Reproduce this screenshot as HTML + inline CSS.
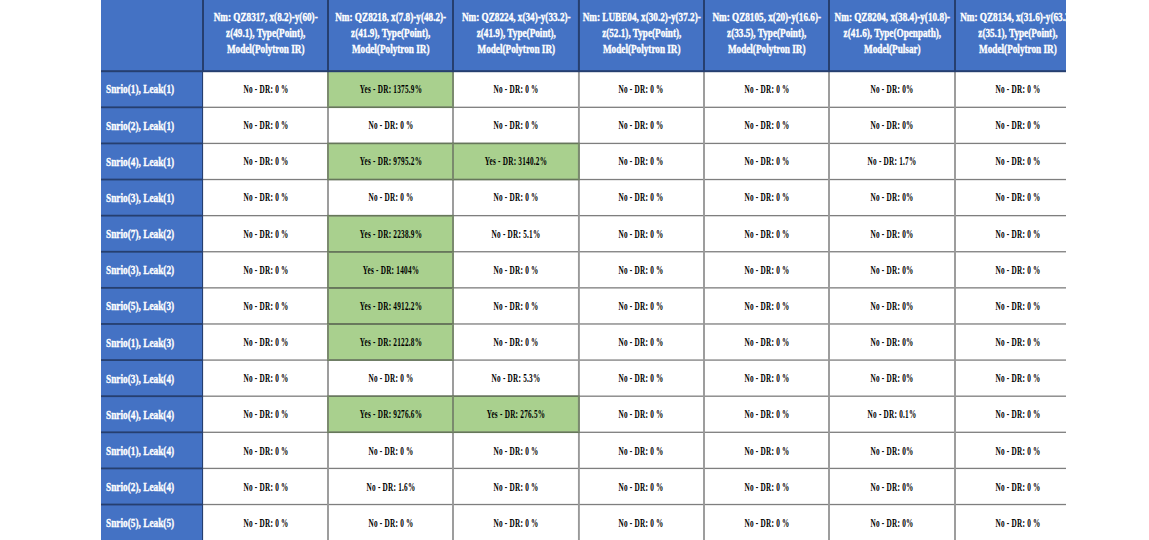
<!DOCTYPE html>
<html><head><meta charset="utf-8"><style>
html,body{margin:0;padding:0;background:#fff;width:1149px;height:540px;overflow:hidden}
#clip{position:absolute;left:101.0px;top:0;width:965.0px;height:540px;overflow:hidden}
svg{position:absolute;left:0;top:0}
.t{position:absolute;white-space:nowrap;font-family:"Liberation Serif",serif;font-weight:bold;-webkit-text-stroke:0.35px currentColor}
</style></head><body>
<div id="clip">
<svg width="965.0" height="540" viewBox="0 0 965.0 540">
<rect x="0" y="0" width="965.0" height="540" fill="#ffffff"/>
<rect x="0" y="0" width="965.0" height="71.2" fill="#4472c4"/>
<rect x="0" y="0" width="102.0" height="540" fill="#4472c4"/>
<rect x="227.00" y="71.20" width="125.00" height="36.11" fill="#a9d08e"/>
<rect x="227.00" y="143.42" width="125.00" height="36.11" fill="#a9d08e"/>
<rect x="352.00" y="143.42" width="125.90" height="36.11" fill="#a9d08e"/>
<rect x="227.00" y="215.64" width="125.00" height="36.11" fill="#a9d08e"/>
<rect x="227.00" y="251.75" width="125.00" height="36.11" fill="#a9d08e"/>
<rect x="227.00" y="287.86" width="125.00" height="36.11" fill="#a9d08e"/>
<rect x="227.00" y="323.97" width="125.00" height="36.11" fill="#a9d08e"/>
<rect x="227.00" y="396.19" width="125.00" height="36.11" fill="#a9d08e"/>
<rect x="352.00" y="396.19" width="125.90" height="36.11" fill="#a9d08e"/>
<rect x="102.00" y="106.66" width="965.0" height="1.3" fill="#7e7e7e"/>
<rect x="102.00" y="142.77" width="965.0" height="1.3" fill="#7e7e7e"/>
<rect x="102.00" y="178.88" width="965.0" height="1.3" fill="#7e7e7e"/>
<rect x="102.00" y="214.99" width="965.0" height="1.3" fill="#7e7e7e"/>
<rect x="102.00" y="251.10" width="965.0" height="1.3" fill="#7e7e7e"/>
<rect x="102.00" y="287.21" width="965.0" height="1.3" fill="#7e7e7e"/>
<rect x="102.00" y="323.32" width="965.0" height="1.3" fill="#7e7e7e"/>
<rect x="102.00" y="359.43" width="965.0" height="1.3" fill="#7e7e7e"/>
<rect x="102.00" y="395.54" width="965.0" height="1.3" fill="#7e7e7e"/>
<rect x="102.00" y="431.65" width="965.0" height="1.3" fill="#7e7e7e"/>
<rect x="102.00" y="467.76" width="965.0" height="1.3" fill="#7e7e7e"/>
<rect x="102.00" y="503.87" width="965.0" height="1.3" fill="#7e7e7e"/>
<rect x="226.05" y="71.2" width="1.9" height="540" fill="#999999"/>
<rect x="351.05" y="71.2" width="1.9" height="540" fill="#999999"/>
<rect x="476.95" y="71.2" width="1.9" height="540" fill="#999999"/>
<rect x="602.05" y="71.2" width="1.9" height="540" fill="#999999"/>
<rect x="727.05" y="71.2" width="1.9" height="540" fill="#999999"/>
<rect x="853.05" y="71.2" width="1.9" height="540" fill="#999999"/>
<rect x="226.10" y="70.45" width="126.80" height="1.5" fill="#66775a"/>
<rect x="226.10" y="106.56" width="126.80" height="1.5" fill="#66775a"/>
<rect x="226.05" y="71.20" width="1.9" height="36.11" fill="#7a8a6e"/>
<rect x="351.05" y="71.20" width="1.9" height="36.11" fill="#7a8a6e"/>
<rect x="226.10" y="142.67" width="126.80" height="1.5" fill="#66775a"/>
<rect x="226.10" y="178.78" width="126.80" height="1.5" fill="#66775a"/>
<rect x="226.05" y="143.42" width="1.9" height="36.11" fill="#7a8a6e"/>
<rect x="351.05" y="143.42" width="1.9" height="36.11" fill="#7a8a6e"/>
<rect x="351.10" y="142.67" width="127.70" height="1.5" fill="#66775a"/>
<rect x="351.10" y="178.78" width="127.70" height="1.5" fill="#66775a"/>
<rect x="351.05" y="143.42" width="1.9" height="36.11" fill="#7a8a6e"/>
<rect x="476.95" y="143.42" width="1.9" height="36.11" fill="#7a8a6e"/>
<rect x="226.10" y="214.89" width="126.80" height="1.5" fill="#66775a"/>
<rect x="226.10" y="251.00" width="126.80" height="1.5" fill="#66775a"/>
<rect x="226.05" y="215.64" width="1.9" height="36.11" fill="#7a8a6e"/>
<rect x="351.05" y="215.64" width="1.9" height="36.11" fill="#7a8a6e"/>
<rect x="226.10" y="251.00" width="126.80" height="1.5" fill="#66775a"/>
<rect x="226.10" y="287.11" width="126.80" height="1.5" fill="#66775a"/>
<rect x="226.05" y="251.75" width="1.9" height="36.11" fill="#7a8a6e"/>
<rect x="351.05" y="251.75" width="1.9" height="36.11" fill="#7a8a6e"/>
<rect x="226.10" y="287.11" width="126.80" height="1.5" fill="#66775a"/>
<rect x="226.10" y="323.22" width="126.80" height="1.5" fill="#66775a"/>
<rect x="226.05" y="287.86" width="1.9" height="36.11" fill="#7a8a6e"/>
<rect x="351.05" y="287.86" width="1.9" height="36.11" fill="#7a8a6e"/>
<rect x="226.10" y="323.22" width="126.80" height="1.5" fill="#66775a"/>
<rect x="226.10" y="359.33" width="126.80" height="1.5" fill="#66775a"/>
<rect x="226.05" y="323.97" width="1.9" height="36.11" fill="#7a8a6e"/>
<rect x="351.05" y="323.97" width="1.9" height="36.11" fill="#7a8a6e"/>
<rect x="226.10" y="395.44" width="126.80" height="1.5" fill="#66775a"/>
<rect x="226.10" y="431.55" width="126.80" height="1.5" fill="#66775a"/>
<rect x="226.05" y="396.19" width="1.9" height="36.11" fill="#7a8a6e"/>
<rect x="351.05" y="396.19" width="1.9" height="36.11" fill="#7a8a6e"/>
<rect x="351.10" y="395.44" width="127.70" height="1.5" fill="#66775a"/>
<rect x="351.10" y="431.55" width="127.70" height="1.5" fill="#66775a"/>
<rect x="351.05" y="396.19" width="1.9" height="36.11" fill="#7a8a6e"/>
<rect x="476.95" y="396.19" width="1.9" height="36.11" fill="#7a8a6e"/>
<rect x="0" y="70.20" width="965.0" height="2" fill="#263f6f"/>
<rect x="101.00" y="0" width="2" height="71.20" fill="#263f6f"/>
<rect x="226.00" y="0" width="2" height="71.20" fill="#263f6f"/>
<rect x="351.00" y="0" width="2" height="71.20" fill="#263f6f"/>
<rect x="476.90" y="0" width="2" height="71.20" fill="#263f6f"/>
<rect x="602.00" y="0" width="2" height="71.20" fill="#263f6f"/>
<rect x="727.00" y="0" width="2" height="71.20" fill="#263f6f"/>
<rect x="853.00" y="0" width="2" height="71.20" fill="#263f6f"/>
<rect x="101.00" y="0" width="1.1" height="540" fill="#263f6f"/>
<rect x="0" y="106.41" width="101.00" height="1.8" fill="#263f6f"/>
<rect x="0" y="142.52" width="101.00" height="1.8" fill="#263f6f"/>
<rect x="0" y="178.63" width="101.00" height="1.8" fill="#263f6f"/>
<rect x="0" y="214.74" width="101.00" height="1.8" fill="#263f6f"/>
<rect x="0" y="250.85" width="101.00" height="1.8" fill="#263f6f"/>
<rect x="0" y="286.96" width="101.00" height="1.8" fill="#263f6f"/>
<rect x="0" y="323.07" width="101.00" height="1.8" fill="#263f6f"/>
<rect x="0" y="359.18" width="101.00" height="1.8" fill="#263f6f"/>
<rect x="0" y="395.29" width="101.00" height="1.8" fill="#263f6f"/>
<rect x="0" y="431.40" width="101.00" height="1.8" fill="#263f6f"/>
<rect x="0" y="467.51" width="101.00" height="1.8" fill="#263f6f"/>
<rect x="0" y="503.62" width="101.00" height="1.8" fill="#263f6f"/>
</svg>
<div class="t" style="left:52.80px;top:9.25px;width:223.40px;font-size:12.0px;line-height:16.0px;color:#ffffff;text-align:center;transform:scaleX(0.765);transform-origin:center 0;">Nm: QZ8317, x(8.2)-y(60)-</div>
<div class="t" style="left:52.80px;top:25.25px;width:223.40px;font-size:12.0px;line-height:16.0px;color:#ffffff;text-align:center;transform:scaleX(0.765);transform-origin:center 0;">z(49.1), Type(Point),</div>
<div class="t" style="left:52.80px;top:41.25px;width:223.40px;font-size:12.0px;line-height:16.0px;color:#ffffff;text-align:center;transform:scaleX(0.765);transform-origin:center 0;">Model(Polytron IR)</div>
<div class="t" style="left:177.80px;top:9.25px;width:223.40px;font-size:12.0px;line-height:16.0px;color:#ffffff;text-align:center;transform:scaleX(0.765);transform-origin:center 0;">Nm: QZ8218, x(7.8)-y(48.2)-</div>
<div class="t" style="left:177.80px;top:25.25px;width:223.40px;font-size:12.0px;line-height:16.0px;color:#ffffff;text-align:center;transform:scaleX(0.765);transform-origin:center 0;">z(41.9), Type(Point),</div>
<div class="t" style="left:177.80px;top:41.25px;width:223.40px;font-size:12.0px;line-height:16.0px;color:#ffffff;text-align:center;transform:scaleX(0.765);transform-origin:center 0;">Model(Polytron IR)</div>
<div class="t" style="left:302.66px;top:9.25px;width:224.58px;font-size:12.0px;line-height:16.0px;color:#ffffff;text-align:center;transform:scaleX(0.765);transform-origin:center 0;">Nm: QZ8224, x(34)-y(33.2)-</div>
<div class="t" style="left:302.66px;top:25.25px;width:224.58px;font-size:12.0px;line-height:16.0px;color:#ffffff;text-align:center;transform:scaleX(0.765);transform-origin:center 0;">z(41.9), Type(Point),</div>
<div class="t" style="left:302.66px;top:41.25px;width:224.58px;font-size:12.0px;line-height:16.0px;color:#ffffff;text-align:center;transform:scaleX(0.765);transform-origin:center 0;">Model(Polytron IR)</div>
<div class="t" style="left:428.69px;top:9.25px;width:223.53px;font-size:12.0px;line-height:16.0px;color:#ffffff;text-align:center;transform:scaleX(0.765);transform-origin:center 0;">Nm: LUBE04, x(30.2)-y(37.2)-</div>
<div class="t" style="left:428.69px;top:25.25px;width:223.53px;font-size:12.0px;line-height:16.0px;color:#ffffff;text-align:center;transform:scaleX(0.765);transform-origin:center 0;">z(52.1), Type(Point),</div>
<div class="t" style="left:428.69px;top:41.25px;width:223.53px;font-size:12.0px;line-height:16.0px;color:#ffffff;text-align:center;transform:scaleX(0.765);transform-origin:center 0;">Model(Polytron IR)</div>
<div class="t" style="left:553.80px;top:9.25px;width:223.40px;font-size:12.0px;line-height:16.0px;color:#ffffff;text-align:center;transform:scaleX(0.765);transform-origin:center 0;">Nm: QZ8105, x(20)-y(16.6)-</div>
<div class="t" style="left:553.80px;top:25.25px;width:223.40px;font-size:12.0px;line-height:16.0px;color:#ffffff;text-align:center;transform:scaleX(0.765);transform-origin:center 0;">z(33.5), Type(Point),</div>
<div class="t" style="left:553.80px;top:41.25px;width:223.40px;font-size:12.0px;line-height:16.0px;color:#ffffff;text-align:center;transform:scaleX(0.765);transform-origin:center 0;">Model(Polytron IR)</div>
<div class="t" style="left:678.65px;top:9.25px;width:224.71px;font-size:12.0px;line-height:16.0px;color:#ffffff;text-align:center;transform:scaleX(0.765);transform-origin:center 0;">Nm: QZ8204, x(38.4)-y(10.8)-</div>
<div class="t" style="left:678.65px;top:25.25px;width:224.71px;font-size:12.0px;line-height:16.0px;color:#ffffff;text-align:center;transform:scaleX(0.765);transform-origin:center 0;">z(41.6), Type(Openpath),</div>
<div class="t" style="left:678.65px;top:41.25px;width:224.71px;font-size:12.0px;line-height:16.0px;color:#ffffff;text-align:center;transform:scaleX(0.765);transform-origin:center 0;">Model(Pulsar)</div>
<div class="t" style="left:804.75px;top:9.25px;width:223.83px;font-size:12.0px;line-height:16.0px;color:#ffffff;text-align:center;transform:scaleX(0.765);transform-origin:center 0;">Nm: QZ8134, x(31.6)-y(63.2)-</div>
<div class="t" style="left:804.75px;top:25.25px;width:223.83px;font-size:12.0px;line-height:16.0px;color:#ffffff;text-align:center;transform:scaleX(0.765);transform-origin:center 0;">z(35.1), Type(Point),</div>
<div class="t" style="left:804.75px;top:41.25px;width:223.83px;font-size:12.0px;line-height:16.0px;color:#ffffff;text-align:center;transform:scaleX(0.765);transform-origin:center 0;">Model(Polytron IR)</div>
<div class="t" style="left:4.80px;top:81.35px;width:120.00px;font-size:12.6px;line-height:16px;color:#ffffff;text-align:left;transform:scaleX(0.738);transform-origin:left 0;">Snrio(1), Leak(1)</div>
<div class="t" style="left:64.50px;top:80.88px;width:200.00px;font-size:12.5px;line-height:16px;color:#000000;text-align:center;transform:scaleX(0.58);transform-origin:center 0;-webkit-text-stroke:0;letter-spacing:0.4px">No - DR: 0 %</div>
<div class="t" style="left:189.50px;top:80.88px;width:200.00px;font-size:12.5px;line-height:16px;color:#000000;text-align:center;transform:scaleX(0.58);transform-origin:center 0;-webkit-text-stroke:0;letter-spacing:0.4px">Yes - DR: 1375.9%</div>
<div class="t" style="left:314.95px;top:80.88px;width:200.00px;font-size:12.5px;line-height:16px;color:#000000;text-align:center;transform:scaleX(0.58);transform-origin:center 0;-webkit-text-stroke:0;letter-spacing:0.4px">No - DR: 0 %</div>
<div class="t" style="left:440.45px;top:80.88px;width:200.00px;font-size:12.5px;line-height:16px;color:#000000;text-align:center;transform:scaleX(0.58);transform-origin:center 0;-webkit-text-stroke:0;letter-spacing:0.4px">No - DR: 0 %</div>
<div class="t" style="left:565.50px;top:80.88px;width:200.00px;font-size:12.5px;line-height:16px;color:#000000;text-align:center;transform:scaleX(0.58);transform-origin:center 0;-webkit-text-stroke:0;letter-spacing:0.4px">No - DR: 0 %</div>
<div class="t" style="left:691.00px;top:80.88px;width:200.00px;font-size:12.5px;line-height:16px;color:#000000;text-align:center;transform:scaleX(0.58);transform-origin:center 0;-webkit-text-stroke:0;letter-spacing:0.4px">No - DR: 0%</div>
<div class="t" style="left:816.66px;top:80.88px;width:200.00px;font-size:12.5px;line-height:16px;color:#000000;text-align:center;transform:scaleX(0.58);transform-origin:center 0;-webkit-text-stroke:0;letter-spacing:0.4px">No - DR: 0 %</div>
<div class="t" style="left:4.80px;top:117.52px;width:120.00px;font-size:12.6px;line-height:16px;color:#ffffff;text-align:left;transform:scaleX(0.738);transform-origin:left 0;">Snrio(2), Leak(1)</div>
<div class="t" style="left:64.50px;top:117.05px;width:200.00px;font-size:12.5px;line-height:16px;color:#000000;text-align:center;transform:scaleX(0.58);transform-origin:center 0;-webkit-text-stroke:0;letter-spacing:0.4px">No - DR: 0 %</div>
<div class="t" style="left:189.50px;top:117.05px;width:200.00px;font-size:12.5px;line-height:16px;color:#000000;text-align:center;transform:scaleX(0.58);transform-origin:center 0;-webkit-text-stroke:0;letter-spacing:0.4px">No - DR: 0 %</div>
<div class="t" style="left:314.95px;top:117.05px;width:200.00px;font-size:12.5px;line-height:16px;color:#000000;text-align:center;transform:scaleX(0.58);transform-origin:center 0;-webkit-text-stroke:0;letter-spacing:0.4px">No - DR: 0 %</div>
<div class="t" style="left:440.45px;top:117.05px;width:200.00px;font-size:12.5px;line-height:16px;color:#000000;text-align:center;transform:scaleX(0.58);transform-origin:center 0;-webkit-text-stroke:0;letter-spacing:0.4px">No - DR: 0 %</div>
<div class="t" style="left:565.50px;top:117.05px;width:200.00px;font-size:12.5px;line-height:16px;color:#000000;text-align:center;transform:scaleX(0.58);transform-origin:center 0;-webkit-text-stroke:0;letter-spacing:0.4px">No - DR: 0 %</div>
<div class="t" style="left:691.00px;top:117.05px;width:200.00px;font-size:12.5px;line-height:16px;color:#000000;text-align:center;transform:scaleX(0.58);transform-origin:center 0;-webkit-text-stroke:0;letter-spacing:0.4px">No - DR: 0%</div>
<div class="t" style="left:816.66px;top:117.05px;width:200.00px;font-size:12.5px;line-height:16px;color:#000000;text-align:center;transform:scaleX(0.58);transform-origin:center 0;-webkit-text-stroke:0;letter-spacing:0.4px">No - DR: 0 %</div>
<div class="t" style="left:4.80px;top:153.69px;width:120.00px;font-size:12.6px;line-height:16px;color:#ffffff;text-align:left;transform:scaleX(0.738);transform-origin:left 0;">Snrio(4), Leak(1)</div>
<div class="t" style="left:64.50px;top:153.22px;width:200.00px;font-size:12.5px;line-height:16px;color:#000000;text-align:center;transform:scaleX(0.58);transform-origin:center 0;-webkit-text-stroke:0;letter-spacing:0.4px">No - DR: 0 %</div>
<div class="t" style="left:189.50px;top:153.22px;width:200.00px;font-size:12.5px;line-height:16px;color:#000000;text-align:center;transform:scaleX(0.58);transform-origin:center 0;-webkit-text-stroke:0;letter-spacing:0.4px">Yes - DR: 9795.2%</div>
<div class="t" style="left:314.95px;top:153.22px;width:200.00px;font-size:12.5px;line-height:16px;color:#000000;text-align:center;transform:scaleX(0.58);transform-origin:center 0;-webkit-text-stroke:0;letter-spacing:0.4px">Yes - DR: 3140.2%</div>
<div class="t" style="left:440.45px;top:153.22px;width:200.00px;font-size:12.5px;line-height:16px;color:#000000;text-align:center;transform:scaleX(0.58);transform-origin:center 0;-webkit-text-stroke:0;letter-spacing:0.4px">No - DR: 0 %</div>
<div class="t" style="left:565.50px;top:153.22px;width:200.00px;font-size:12.5px;line-height:16px;color:#000000;text-align:center;transform:scaleX(0.58);transform-origin:center 0;-webkit-text-stroke:0;letter-spacing:0.4px">No - DR: 0 %</div>
<div class="t" style="left:691.00px;top:153.22px;width:200.00px;font-size:12.5px;line-height:16px;color:#000000;text-align:center;transform:scaleX(0.58);transform-origin:center 0;-webkit-text-stroke:0;letter-spacing:0.4px">No - DR: 1.7%</div>
<div class="t" style="left:816.66px;top:153.22px;width:200.00px;font-size:12.5px;line-height:16px;color:#000000;text-align:center;transform:scaleX(0.58);transform-origin:center 0;-webkit-text-stroke:0;letter-spacing:0.4px">No - DR: 0 %</div>
<div class="t" style="left:4.80px;top:189.86px;width:120.00px;font-size:12.6px;line-height:16px;color:#ffffff;text-align:left;transform:scaleX(0.738);transform-origin:left 0;">Snrio(3), Leak(1)</div>
<div class="t" style="left:64.50px;top:189.39px;width:200.00px;font-size:12.5px;line-height:16px;color:#000000;text-align:center;transform:scaleX(0.58);transform-origin:center 0;-webkit-text-stroke:0;letter-spacing:0.4px">No - DR: 0 %</div>
<div class="t" style="left:189.50px;top:189.39px;width:200.00px;font-size:12.5px;line-height:16px;color:#000000;text-align:center;transform:scaleX(0.58);transform-origin:center 0;-webkit-text-stroke:0;letter-spacing:0.4px">No - DR: 0 %</div>
<div class="t" style="left:314.95px;top:189.39px;width:200.00px;font-size:12.5px;line-height:16px;color:#000000;text-align:center;transform:scaleX(0.58);transform-origin:center 0;-webkit-text-stroke:0;letter-spacing:0.4px">No - DR: 0 %</div>
<div class="t" style="left:440.45px;top:189.39px;width:200.00px;font-size:12.5px;line-height:16px;color:#000000;text-align:center;transform:scaleX(0.58);transform-origin:center 0;-webkit-text-stroke:0;letter-spacing:0.4px">No - DR: 0 %</div>
<div class="t" style="left:565.50px;top:189.39px;width:200.00px;font-size:12.5px;line-height:16px;color:#000000;text-align:center;transform:scaleX(0.58);transform-origin:center 0;-webkit-text-stroke:0;letter-spacing:0.4px">No - DR: 0 %</div>
<div class="t" style="left:691.00px;top:189.39px;width:200.00px;font-size:12.5px;line-height:16px;color:#000000;text-align:center;transform:scaleX(0.58);transform-origin:center 0;-webkit-text-stroke:0;letter-spacing:0.4px">No - DR: 0%</div>
<div class="t" style="left:816.66px;top:189.39px;width:200.00px;font-size:12.5px;line-height:16px;color:#000000;text-align:center;transform:scaleX(0.58);transform-origin:center 0;-webkit-text-stroke:0;letter-spacing:0.4px">No - DR: 0 %</div>
<div class="t" style="left:4.80px;top:226.03px;width:120.00px;font-size:12.6px;line-height:16px;color:#ffffff;text-align:left;transform:scaleX(0.738);transform-origin:left 0;">Snrio(7), Leak(2)</div>
<div class="t" style="left:64.50px;top:225.56px;width:200.00px;font-size:12.5px;line-height:16px;color:#000000;text-align:center;transform:scaleX(0.58);transform-origin:center 0;-webkit-text-stroke:0;letter-spacing:0.4px">No - DR: 0 %</div>
<div class="t" style="left:189.50px;top:225.56px;width:200.00px;font-size:12.5px;line-height:16px;color:#000000;text-align:center;transform:scaleX(0.58);transform-origin:center 0;-webkit-text-stroke:0;letter-spacing:0.4px">Yes - DR: 2238.9%</div>
<div class="t" style="left:314.95px;top:225.56px;width:200.00px;font-size:12.5px;line-height:16px;color:#000000;text-align:center;transform:scaleX(0.58);transform-origin:center 0;-webkit-text-stroke:0;letter-spacing:0.4px">No - DR: 5.1%</div>
<div class="t" style="left:440.45px;top:225.56px;width:200.00px;font-size:12.5px;line-height:16px;color:#000000;text-align:center;transform:scaleX(0.58);transform-origin:center 0;-webkit-text-stroke:0;letter-spacing:0.4px">No - DR: 0 %</div>
<div class="t" style="left:565.50px;top:225.56px;width:200.00px;font-size:12.5px;line-height:16px;color:#000000;text-align:center;transform:scaleX(0.58);transform-origin:center 0;-webkit-text-stroke:0;letter-spacing:0.4px">No - DR: 0 %</div>
<div class="t" style="left:691.00px;top:225.56px;width:200.00px;font-size:12.5px;line-height:16px;color:#000000;text-align:center;transform:scaleX(0.58);transform-origin:center 0;-webkit-text-stroke:0;letter-spacing:0.4px">No - DR: 0%</div>
<div class="t" style="left:816.66px;top:225.56px;width:200.00px;font-size:12.5px;line-height:16px;color:#000000;text-align:center;transform:scaleX(0.58);transform-origin:center 0;-webkit-text-stroke:0;letter-spacing:0.4px">No - DR: 0 %</div>
<div class="t" style="left:4.80px;top:262.20px;width:120.00px;font-size:12.6px;line-height:16px;color:#ffffff;text-align:left;transform:scaleX(0.738);transform-origin:left 0;">Snrio(3), Leak(2)</div>
<div class="t" style="left:64.50px;top:261.73px;width:200.00px;font-size:12.5px;line-height:16px;color:#000000;text-align:center;transform:scaleX(0.58);transform-origin:center 0;-webkit-text-stroke:0;letter-spacing:0.4px">No - DR: 0 %</div>
<div class="t" style="left:189.50px;top:261.73px;width:200.00px;font-size:12.5px;line-height:16px;color:#000000;text-align:center;transform:scaleX(0.58);transform-origin:center 0;-webkit-text-stroke:0;letter-spacing:0.4px">Yes - DR: 1404%</div>
<div class="t" style="left:314.95px;top:261.73px;width:200.00px;font-size:12.5px;line-height:16px;color:#000000;text-align:center;transform:scaleX(0.58);transform-origin:center 0;-webkit-text-stroke:0;letter-spacing:0.4px">No - DR: 0 %</div>
<div class="t" style="left:440.45px;top:261.73px;width:200.00px;font-size:12.5px;line-height:16px;color:#000000;text-align:center;transform:scaleX(0.58);transform-origin:center 0;-webkit-text-stroke:0;letter-spacing:0.4px">No - DR: 0 %</div>
<div class="t" style="left:565.50px;top:261.73px;width:200.00px;font-size:12.5px;line-height:16px;color:#000000;text-align:center;transform:scaleX(0.58);transform-origin:center 0;-webkit-text-stroke:0;letter-spacing:0.4px">No - DR: 0 %</div>
<div class="t" style="left:691.00px;top:261.73px;width:200.00px;font-size:12.5px;line-height:16px;color:#000000;text-align:center;transform:scaleX(0.58);transform-origin:center 0;-webkit-text-stroke:0;letter-spacing:0.4px">No - DR: 0%</div>
<div class="t" style="left:816.66px;top:261.73px;width:200.00px;font-size:12.5px;line-height:16px;color:#000000;text-align:center;transform:scaleX(0.58);transform-origin:center 0;-webkit-text-stroke:0;letter-spacing:0.4px">No - DR: 0 %</div>
<div class="t" style="left:4.80px;top:298.37px;width:120.00px;font-size:12.6px;line-height:16px;color:#ffffff;text-align:left;transform:scaleX(0.738);transform-origin:left 0;">Snrio(5), Leak(3)</div>
<div class="t" style="left:64.50px;top:297.90px;width:200.00px;font-size:12.5px;line-height:16px;color:#000000;text-align:center;transform:scaleX(0.58);transform-origin:center 0;-webkit-text-stroke:0;letter-spacing:0.4px">No - DR: 0 %</div>
<div class="t" style="left:189.50px;top:297.90px;width:200.00px;font-size:12.5px;line-height:16px;color:#000000;text-align:center;transform:scaleX(0.58);transform-origin:center 0;-webkit-text-stroke:0;letter-spacing:0.4px">Yes - DR: 4912.2%</div>
<div class="t" style="left:314.95px;top:297.90px;width:200.00px;font-size:12.5px;line-height:16px;color:#000000;text-align:center;transform:scaleX(0.58);transform-origin:center 0;-webkit-text-stroke:0;letter-spacing:0.4px">No - DR: 0 %</div>
<div class="t" style="left:440.45px;top:297.90px;width:200.00px;font-size:12.5px;line-height:16px;color:#000000;text-align:center;transform:scaleX(0.58);transform-origin:center 0;-webkit-text-stroke:0;letter-spacing:0.4px">No - DR: 0 %</div>
<div class="t" style="left:565.50px;top:297.90px;width:200.00px;font-size:12.5px;line-height:16px;color:#000000;text-align:center;transform:scaleX(0.58);transform-origin:center 0;-webkit-text-stroke:0;letter-spacing:0.4px">No - DR: 0 %</div>
<div class="t" style="left:691.00px;top:297.90px;width:200.00px;font-size:12.5px;line-height:16px;color:#000000;text-align:center;transform:scaleX(0.58);transform-origin:center 0;-webkit-text-stroke:0;letter-spacing:0.4px">No - DR: 0%</div>
<div class="t" style="left:816.66px;top:297.90px;width:200.00px;font-size:12.5px;line-height:16px;color:#000000;text-align:center;transform:scaleX(0.58);transform-origin:center 0;-webkit-text-stroke:0;letter-spacing:0.4px">No - DR: 0 %</div>
<div class="t" style="left:4.80px;top:334.54px;width:120.00px;font-size:12.6px;line-height:16px;color:#ffffff;text-align:left;transform:scaleX(0.738);transform-origin:left 0;">Snrio(1), Leak(3)</div>
<div class="t" style="left:64.50px;top:334.07px;width:200.00px;font-size:12.5px;line-height:16px;color:#000000;text-align:center;transform:scaleX(0.58);transform-origin:center 0;-webkit-text-stroke:0;letter-spacing:0.4px">No - DR: 0 %</div>
<div class="t" style="left:189.50px;top:334.07px;width:200.00px;font-size:12.5px;line-height:16px;color:#000000;text-align:center;transform:scaleX(0.58);transform-origin:center 0;-webkit-text-stroke:0;letter-spacing:0.4px">Yes - DR: 2122.8%</div>
<div class="t" style="left:314.95px;top:334.07px;width:200.00px;font-size:12.5px;line-height:16px;color:#000000;text-align:center;transform:scaleX(0.58);transform-origin:center 0;-webkit-text-stroke:0;letter-spacing:0.4px">No - DR: 0 %</div>
<div class="t" style="left:440.45px;top:334.07px;width:200.00px;font-size:12.5px;line-height:16px;color:#000000;text-align:center;transform:scaleX(0.58);transform-origin:center 0;-webkit-text-stroke:0;letter-spacing:0.4px">No - DR: 0 %</div>
<div class="t" style="left:565.50px;top:334.07px;width:200.00px;font-size:12.5px;line-height:16px;color:#000000;text-align:center;transform:scaleX(0.58);transform-origin:center 0;-webkit-text-stroke:0;letter-spacing:0.4px">No - DR: 0 %</div>
<div class="t" style="left:691.00px;top:334.07px;width:200.00px;font-size:12.5px;line-height:16px;color:#000000;text-align:center;transform:scaleX(0.58);transform-origin:center 0;-webkit-text-stroke:0;letter-spacing:0.4px">No - DR: 0%</div>
<div class="t" style="left:816.66px;top:334.07px;width:200.00px;font-size:12.5px;line-height:16px;color:#000000;text-align:center;transform:scaleX(0.58);transform-origin:center 0;-webkit-text-stroke:0;letter-spacing:0.4px">No - DR: 0 %</div>
<div class="t" style="left:4.80px;top:370.71px;width:120.00px;font-size:12.6px;line-height:16px;color:#ffffff;text-align:left;transform:scaleX(0.738);transform-origin:left 0;">Snrio(3), Leak(4)</div>
<div class="t" style="left:64.50px;top:370.24px;width:200.00px;font-size:12.5px;line-height:16px;color:#000000;text-align:center;transform:scaleX(0.58);transform-origin:center 0;-webkit-text-stroke:0;letter-spacing:0.4px">No - DR: 0 %</div>
<div class="t" style="left:189.50px;top:370.24px;width:200.00px;font-size:12.5px;line-height:16px;color:#000000;text-align:center;transform:scaleX(0.58);transform-origin:center 0;-webkit-text-stroke:0;letter-spacing:0.4px">No - DR: 0 %</div>
<div class="t" style="left:314.95px;top:370.24px;width:200.00px;font-size:12.5px;line-height:16px;color:#000000;text-align:center;transform:scaleX(0.58);transform-origin:center 0;-webkit-text-stroke:0;letter-spacing:0.4px">No - DR: 5.3%</div>
<div class="t" style="left:440.45px;top:370.24px;width:200.00px;font-size:12.5px;line-height:16px;color:#000000;text-align:center;transform:scaleX(0.58);transform-origin:center 0;-webkit-text-stroke:0;letter-spacing:0.4px">No - DR: 0 %</div>
<div class="t" style="left:565.50px;top:370.24px;width:200.00px;font-size:12.5px;line-height:16px;color:#000000;text-align:center;transform:scaleX(0.58);transform-origin:center 0;-webkit-text-stroke:0;letter-spacing:0.4px">No - DR: 0 %</div>
<div class="t" style="left:691.00px;top:370.24px;width:200.00px;font-size:12.5px;line-height:16px;color:#000000;text-align:center;transform:scaleX(0.58);transform-origin:center 0;-webkit-text-stroke:0;letter-spacing:0.4px">No - DR: 0%</div>
<div class="t" style="left:816.66px;top:370.24px;width:200.00px;font-size:12.5px;line-height:16px;color:#000000;text-align:center;transform:scaleX(0.58);transform-origin:center 0;-webkit-text-stroke:0;letter-spacing:0.4px">No - DR: 0 %</div>
<div class="t" style="left:4.80px;top:406.88px;width:120.00px;font-size:12.6px;line-height:16px;color:#ffffff;text-align:left;transform:scaleX(0.738);transform-origin:left 0;">Snrio(4), Leak(4)</div>
<div class="t" style="left:64.50px;top:406.41px;width:200.00px;font-size:12.5px;line-height:16px;color:#000000;text-align:center;transform:scaleX(0.58);transform-origin:center 0;-webkit-text-stroke:0;letter-spacing:0.4px">No - DR: 0 %</div>
<div class="t" style="left:189.50px;top:406.41px;width:200.00px;font-size:12.5px;line-height:16px;color:#000000;text-align:center;transform:scaleX(0.58);transform-origin:center 0;-webkit-text-stroke:0;letter-spacing:0.4px">Yes - DR: 9276.6%</div>
<div class="t" style="left:314.95px;top:406.41px;width:200.00px;font-size:12.5px;line-height:16px;color:#000000;text-align:center;transform:scaleX(0.58);transform-origin:center 0;-webkit-text-stroke:0;letter-spacing:0.4px">Yes - DR: 276.5%</div>
<div class="t" style="left:440.45px;top:406.41px;width:200.00px;font-size:12.5px;line-height:16px;color:#000000;text-align:center;transform:scaleX(0.58);transform-origin:center 0;-webkit-text-stroke:0;letter-spacing:0.4px">No - DR: 0 %</div>
<div class="t" style="left:565.50px;top:406.41px;width:200.00px;font-size:12.5px;line-height:16px;color:#000000;text-align:center;transform:scaleX(0.58);transform-origin:center 0;-webkit-text-stroke:0;letter-spacing:0.4px">No - DR: 0 %</div>
<div class="t" style="left:691.00px;top:406.41px;width:200.00px;font-size:12.5px;line-height:16px;color:#000000;text-align:center;transform:scaleX(0.58);transform-origin:center 0;-webkit-text-stroke:0;letter-spacing:0.4px">No - DR: 0.1%</div>
<div class="t" style="left:816.66px;top:406.41px;width:200.00px;font-size:12.5px;line-height:16px;color:#000000;text-align:center;transform:scaleX(0.58);transform-origin:center 0;-webkit-text-stroke:0;letter-spacing:0.4px">No - DR: 0 %</div>
<div class="t" style="left:4.80px;top:443.05px;width:120.00px;font-size:12.6px;line-height:16px;color:#ffffff;text-align:left;transform:scaleX(0.738);transform-origin:left 0;">Snrio(1), Leak(4)</div>
<div class="t" style="left:64.50px;top:442.58px;width:200.00px;font-size:12.5px;line-height:16px;color:#000000;text-align:center;transform:scaleX(0.58);transform-origin:center 0;-webkit-text-stroke:0;letter-spacing:0.4px">No - DR: 0 %</div>
<div class="t" style="left:189.50px;top:442.58px;width:200.00px;font-size:12.5px;line-height:16px;color:#000000;text-align:center;transform:scaleX(0.58);transform-origin:center 0;-webkit-text-stroke:0;letter-spacing:0.4px">No - DR: 0 %</div>
<div class="t" style="left:314.95px;top:442.58px;width:200.00px;font-size:12.5px;line-height:16px;color:#000000;text-align:center;transform:scaleX(0.58);transform-origin:center 0;-webkit-text-stroke:0;letter-spacing:0.4px">No - DR: 0 %</div>
<div class="t" style="left:440.45px;top:442.58px;width:200.00px;font-size:12.5px;line-height:16px;color:#000000;text-align:center;transform:scaleX(0.58);transform-origin:center 0;-webkit-text-stroke:0;letter-spacing:0.4px">No - DR: 0 %</div>
<div class="t" style="left:565.50px;top:442.58px;width:200.00px;font-size:12.5px;line-height:16px;color:#000000;text-align:center;transform:scaleX(0.58);transform-origin:center 0;-webkit-text-stroke:0;letter-spacing:0.4px">No - DR: 0 %</div>
<div class="t" style="left:691.00px;top:442.58px;width:200.00px;font-size:12.5px;line-height:16px;color:#000000;text-align:center;transform:scaleX(0.58);transform-origin:center 0;-webkit-text-stroke:0;letter-spacing:0.4px">No - DR: 0%</div>
<div class="t" style="left:816.66px;top:442.58px;width:200.00px;font-size:12.5px;line-height:16px;color:#000000;text-align:center;transform:scaleX(0.58);transform-origin:center 0;-webkit-text-stroke:0;letter-spacing:0.4px">No - DR: 0 %</div>
<div class="t" style="left:4.80px;top:479.22px;width:120.00px;font-size:12.6px;line-height:16px;color:#ffffff;text-align:left;transform:scaleX(0.738);transform-origin:left 0;">Snrio(2), Leak(4)</div>
<div class="t" style="left:64.50px;top:478.75px;width:200.00px;font-size:12.5px;line-height:16px;color:#000000;text-align:center;transform:scaleX(0.58);transform-origin:center 0;-webkit-text-stroke:0;letter-spacing:0.4px">No - DR: 0 %</div>
<div class="t" style="left:189.50px;top:478.75px;width:200.00px;font-size:12.5px;line-height:16px;color:#000000;text-align:center;transform:scaleX(0.58);transform-origin:center 0;-webkit-text-stroke:0;letter-spacing:0.4px">No - DR: 1.6%</div>
<div class="t" style="left:314.95px;top:478.75px;width:200.00px;font-size:12.5px;line-height:16px;color:#000000;text-align:center;transform:scaleX(0.58);transform-origin:center 0;-webkit-text-stroke:0;letter-spacing:0.4px">No - DR: 0 %</div>
<div class="t" style="left:440.45px;top:478.75px;width:200.00px;font-size:12.5px;line-height:16px;color:#000000;text-align:center;transform:scaleX(0.58);transform-origin:center 0;-webkit-text-stroke:0;letter-spacing:0.4px">No - DR: 0 %</div>
<div class="t" style="left:565.50px;top:478.75px;width:200.00px;font-size:12.5px;line-height:16px;color:#000000;text-align:center;transform:scaleX(0.58);transform-origin:center 0;-webkit-text-stroke:0;letter-spacing:0.4px">No - DR: 0 %</div>
<div class="t" style="left:691.00px;top:478.75px;width:200.00px;font-size:12.5px;line-height:16px;color:#000000;text-align:center;transform:scaleX(0.58);transform-origin:center 0;-webkit-text-stroke:0;letter-spacing:0.4px">No - DR: 0%</div>
<div class="t" style="left:816.66px;top:478.75px;width:200.00px;font-size:12.5px;line-height:16px;color:#000000;text-align:center;transform:scaleX(0.58);transform-origin:center 0;-webkit-text-stroke:0;letter-spacing:0.4px">No - DR: 0 %</div>
<div class="t" style="left:4.80px;top:515.39px;width:120.00px;font-size:12.6px;line-height:16px;color:#ffffff;text-align:left;transform:scaleX(0.738);transform-origin:left 0;">Snrio(5), Leak(5)</div>
<div class="t" style="left:64.50px;top:514.92px;width:200.00px;font-size:12.5px;line-height:16px;color:#000000;text-align:center;transform:scaleX(0.58);transform-origin:center 0;-webkit-text-stroke:0;letter-spacing:0.4px">No - DR: 0 %</div>
<div class="t" style="left:189.50px;top:514.92px;width:200.00px;font-size:12.5px;line-height:16px;color:#000000;text-align:center;transform:scaleX(0.58);transform-origin:center 0;-webkit-text-stroke:0;letter-spacing:0.4px">No - DR: 0 %</div>
<div class="t" style="left:314.95px;top:514.92px;width:200.00px;font-size:12.5px;line-height:16px;color:#000000;text-align:center;transform:scaleX(0.58);transform-origin:center 0;-webkit-text-stroke:0;letter-spacing:0.4px">No - DR: 0 %</div>
<div class="t" style="left:440.45px;top:514.92px;width:200.00px;font-size:12.5px;line-height:16px;color:#000000;text-align:center;transform:scaleX(0.58);transform-origin:center 0;-webkit-text-stroke:0;letter-spacing:0.4px">No - DR: 0 %</div>
<div class="t" style="left:565.50px;top:514.92px;width:200.00px;font-size:12.5px;line-height:16px;color:#000000;text-align:center;transform:scaleX(0.58);transform-origin:center 0;-webkit-text-stroke:0;letter-spacing:0.4px">No - DR: 0 %</div>
<div class="t" style="left:691.00px;top:514.92px;width:200.00px;font-size:12.5px;line-height:16px;color:#000000;text-align:center;transform:scaleX(0.58);transform-origin:center 0;-webkit-text-stroke:0;letter-spacing:0.4px">No - DR: 0%</div>
<div class="t" style="left:816.66px;top:514.92px;width:200.00px;font-size:12.5px;line-height:16px;color:#000000;text-align:center;transform:scaleX(0.58);transform-origin:center 0;-webkit-text-stroke:0;letter-spacing:0.4px">No - DR: 0 %</div>
</div>
</body></html>
